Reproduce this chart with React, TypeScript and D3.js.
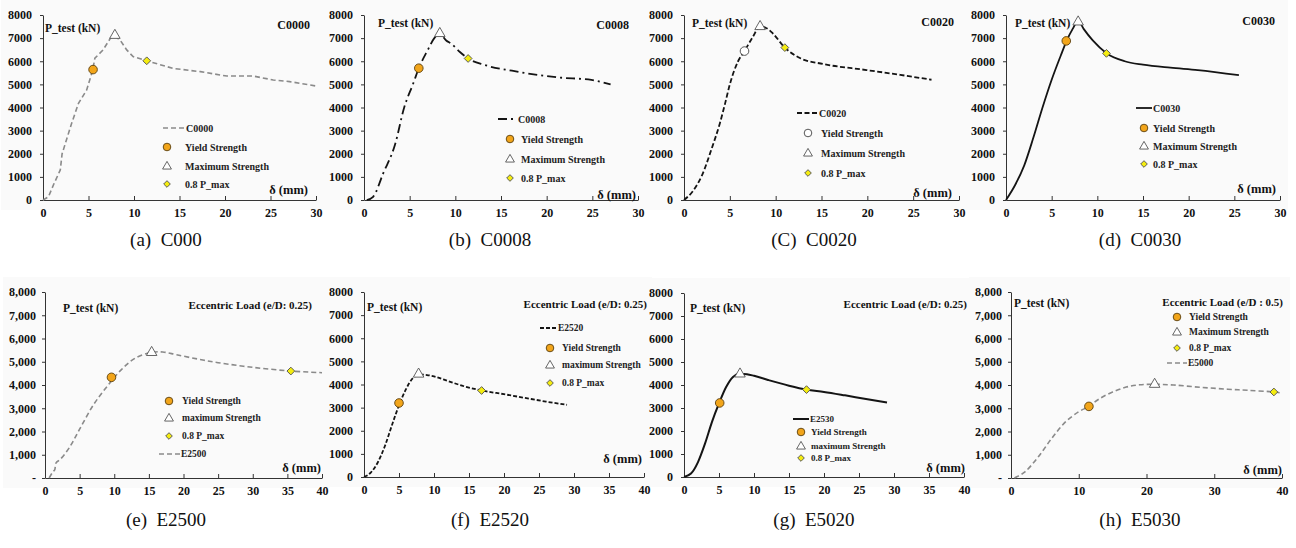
import React, { useEffect, useRef } from 'react';
import * as d3 from 'd3';

// load - displacement curves: [delta (mm), P_test (kN)]
const c0000Curve = [[0, 0], [0.6, 140], [1.2, 700], [1.9, 1300], [2.1, 2000], [3.15, 3320], [3.9, 4180], [4.8, 4760], [5.45, 5600], [5.7, 6130], [6.6, 6490], [7.4, 6990], [7.9, 7100], [8.5, 6900], [9.2, 6490], [9.9, 6200], [11.4, 6020], [14.3, 5690], [17.3, 5550], [20.2, 5360], [23.1, 5360], [25.3, 5190], [27.1, 5120], [30, 4930]];
const c0008Curve = [[0.3, 0], [1, 140], [2.1, 1150], [3.4, 2400], [4.4, 4000], [5.4, 5050], [6, 5700], [7, 6500], [7.7, 7000], [8.3, 7180], [9, 6900], [9.6, 6750], [10.5, 6400], [11.4, 6120], [13.2, 5840], [16.2, 5590], [21.3, 5300], [24.9, 5190], [27, 5000]];
const c0020Curve = [[0, 0], [1, 400], [2, 1100], [3, 2200], [3.9, 3300], [4.5, 4200], [5, 5000], [5.9, 6000], [6.6, 6440], [7.5, 7050], [8.3, 7500], [9, 7430], [9.7, 7200], [11, 6590], [12.7, 6130], [15.2, 5880], [19.9, 5620], [23.6, 5410], [27, 5200]];
const c0030Curve = [[0, 0], [1, 650], [2, 1500], [3, 2700], [4, 4000], [5, 5200], [6, 6250], [6.6, 6850], [7.3, 7400], [7.9, 7750], [8.5, 7400], [9.5, 6900], [11, 6350], [13, 6000], [15, 5850], [18, 5720], [21, 5620], [25.5, 5400]];
const e2500Curve = [[0.6, 0], [1.1, 250], [1.4, 350], [1.6, 650], [2.2, 800], [3.5, 1300], [5, 2100], [7, 3150], [9, 3950], [11, 4650], [13, 5150], [15.4, 5400], [17, 5420], [19, 5300], [22, 5120], [25, 4960], [30, 4760], [35.5, 4600], [40, 4530]];
const e2520Curve = [[0, 0], [1, 200], [2, 650], [3, 1350], [4, 2250], [5, 3100], [6, 3800], [7, 4280], [8, 4430], [9, 4410], [10, 4350], [12, 4150], [14, 3950], [17, 3730], [20, 3580], [23, 3420], [26, 3260], [29, 3120]];
const e2530Curve = [[0, 0], [1, 150], [2, 650], [3, 1450], [4, 2400], [5, 3200], [6, 3900], [7, 4350], [8, 4490], [9, 4470], [10, 4400], [12, 4220], [15, 3970], [17.5, 3800], [20, 3700], [23, 3550], [26, 3390], [29, 3240]];
const e5000Curve = [[0.5, 0], [2, 250], [4, 900], [6, 1700], [8, 2400], [10, 2850], [11.5, 3080], [13, 3400], [15, 3700], [17, 3910], [19, 4010], [21.2, 4030], [24, 4000], [28, 3900], [32, 3820], [35, 3770], [38.8, 3700], [40, 3650]];

const curves = [c0000Curve, c0008Curve, c0020Curve, c0030Curve, e2500Curve, e2520Curve, e2530Curve, e5000Curve];

const yieldPoints = [[5.5, 5640], [6, 5700], [6.6, 6440], [6.6, 6880], [9.6, 4330], [5, 3200], [5.1, 3220], [11.5, 3080]];
const maxPoints = [[7.9, 7120], [8.3, 7200], [8.3, 7500], [7.9, 7700], [15.4, 5400], [7.8, 4450], [8, 4480], [21.2, 4030]];
const p08Points = [[11.4, 6020], [11.4, 6120], [11, 6590], [11, 6340], [35.5, 4600], [16.8, 3740], [17.5, 3800], [38.8, 3700]];

const seriesNames = ['C0000', 'C0008', 'C0020', 'C0030', 'E2500', 'E2520', 'E2530', 'E5000'];
const cornerTitles = ['C0000', 'C0008', 'C0020', 'C0030', 'Eccentric Load (e/D: 0.25)', 'Eccentric Load (e/D: 0.25)', 'Eccentric Load (e/D: 0.25)', 'Eccentric Load (e/D : 0.5)'];
const maxLabels = ['Maximum Strength', 'Maximum Strength', 'Maximum Strength', 'Maximum Strength', 'maximum Strength', 'maximum Strength', 'maximum Strength', 'Maximum Strength'];
const captions = ['(a)  C000', '(b)  C0008', '(C)  C0020', '(d)  C0030', '(e)  E2500', '(f)  E2520', '(g)  E5020', '(h)  E5030'];

const xTicksShort = [0, 5, 10, 15, 20, 25, 30];
const xTicksLong = [0, 5, 10, 15, 20, 25, 30, 35, 40];
const xTicksTen = [0, 10, 20, 30, 40];
const yTicks = [0, 1000, 2000, 3000, 4000, 5000, 6000, 7000, 8000];

const GRAY = '#8a8a8a';
const INK = '#141414';

// where each panel sits on the page, and how it is drawn
const layout = [
  { x0: 43, x1: 316, yTop: 15, yBot: 200, xMax: 30, ticks: xTicksShort, comma: false, stroke: GRAY, dash: '5,3', width: 1.6, curve: 'linear', openYield: false,
    pTitle: [45, 32], corner: [310, 29], cornerFs: 12, delta: [308, 194], legend: { lx0: 163, lx1: 185, mx: 167, tx: 185, rows: { line: 128, yield: 147, max: 166, p08: 184 }, fs: 10 } },
  { x0: 364, x1: 638, yTop: 15, yBot: 200, xMax: 30, ticks: xTicksShort, comma: false, stroke: INK, dash: '9,4,2,4', width: 1.8, curve: 'monotone', openYield: false,
    pTitle: [378, 27], corner: [629, 29], cornerFs: 12, delta: [636, 199], legend: { lx0: 498, lx1: 517, mx: 510, tx: 521, rows: { line: 119, yield: 139, max: 159, p08: 178 }, fs: 10 } },
  { x0: 684, x1: 959, yTop: 15, yBot: 200, xMax: 30, ticks: xTicksShort, comma: false, stroke: INK, dash: '5,2.5', width: 1.8, curve: 'monotone', openYield: true,
    pTitle: [692, 27], corner: [954, 26], cornerFs: 12, delta: [952, 197], legend: { lx0: 797, lx1: 818, mx: 808, tx: 821, rows: { line: 113, yield: 133, max: 153, p08: 173 }, fs: 10 } },
  { x0: 1006, x1: 1280, yTop: 15, yBot: 200, xMax: 30, ticks: xTicksShort, comma: false, stroke: INK, dash: null, width: 1.8, curve: 'monotone', openYield: false,
    pTitle: [1015, 27], corner: [1275, 25], cornerFs: 12, delta: [1276, 193], legend: { lx0: 1136, lx1: 1152, mx: 1144, tx: 1153, rows: { line: 108, yield: 128, max: 146, p08: 164 }, fs: 10 } },
  { x0: 45, x1: 322, yTop: 292, yBot: 478, xMax: 40, ticks: xTicksLong, comma: true, stroke: GRAY, dash: '5,3', width: 1.6, curve: 'catmull', openYield: false,
    pTitle: [63, 312], corner: [312, 309], cornerFs: 11, delta: [321, 472], legend: { lx0: 159, lx1: 180, mx: 169, tx: 182, rows: { yield: 401, max: 418, p08: 436, line: 454 }, fs: 9.5 } },
  { x0: 364, x1: 644, yTop: 292, yBot: 477, xMax: 40, ticks: xTicksLong, comma: false, stroke: INK, dash: '4,2', width: 1.8, curve: 'monotone', openYield: false,
    pTitle: [367, 311], corner: [647, 308], cornerFs: 11, delta: [642, 463], legend: { lx0: 540, lx1: 557, mx: 550, tx: 562, rows: { line: 328, yield: 348, max: 365, p08: 383 }, fs: 9.5 } },
  { x0: 684, x1: 964, yTop: 293, yBot: 477, xMax: 40, ticks: xTicksLong, comma: false, stroke: INK, dash: null, width: 2, curve: 'monotone', openYield: false,
    pTitle: [690, 312], corner: [967, 308], cornerFs: 11, delta: [965, 472], legend: { lx0: 793, lx1: 809, mx: 801, tx: 811, rows: { line: 419, yield: 432, max: 446, p08: 458 }, fs: 9 } },
  { x0: 1011, x1: 1282, yTop: 292, yBot: 478, xMax: 40, ticks: xTicksTen, comma: true, stroke: GRAY, dash: '5,3', width: 1.6, curve: 'catmull', openYield: false,
    pTitle: [1014, 307], corner: [1283, 306], cornerFs: 11, delta: [1282, 474], legend: { lx0: 1167, lx1: 1187, mx: 1177, tx: 1189, rows: { yield: 317, max: 332, p08: 348, line: 363 }, fs: 9.5 } },
];

const curveTypes = {
  linear: d3.curveLinear,
  monotone: d3.curveMonotoneX,
  catmull: d3.curveCatmullRom.alpha(0.5),
};

const captionPos = [[166, 246], [490, 246], [814, 246], [1140, 246], [166, 526], [490, 526], [814, 526], [1140, 526]];

const FONT = "'Liberation Serif', 'Times New Roman', Times, serif";

export default function App() {
  const ref = useRef(null);

  useEffect(() => {
    const svg = d3.select(ref.current);
    svg.selectAll('*').remove();

    svg.append('rect').attr('width', 1296).attr('height', 548).attr('fill', '#fff');

    // light panel backgrounds first, so no panel covers its neighbour's text
    svg.selectAll('rect.bg')
      .data(layout)
      .join('rect')
      .attr('class', 'bg')
      .attr('x', L => L.x0 - 42).attr('y', L => L.yTop - 15)
      .attr('width', L => L.x1 - L.x0 + 50).attr('height', L => L.yBot - L.yTop + 25)
      .attr('fill', '#fafafa');

    layout.forEach((L, i) => {
      const g = svg.append('g').style('font-family', FONT);

      const x = d3.scaleLinear().domain([0, L.xMax]).range([L.x0, L.x1]);
      const y = d3.scaleLinear().domain([0, 8000]).range([L.yBot, L.yTop]);

      const fmt = L.comma ? (v => (v === 0 ? '-' : d3.format(',')(v))) : (v => String(v));

      const styleTicks = a => a.selectAll('.tick text')
        .style('font-family', FONT).style('font-weight', 'bold').style('font-size', '12px').attr('fill', '#111');

      // axes
      g.append('g')
        .attr('transform', `translate(0,${L.yBot})`)
        .call(d3.axisBottom(x).tickValues(L.ticks).tickSize(-4).tickSizeOuter(0).tickPadding(8))
        .call(a => a.select('.domain').attr('stroke', '#333'))
        .call(a => a.selectAll('.tick line').attr('stroke', '#333'))
        .call(styleTicks);

      g.append('g')
        .attr('transform', `translate(${L.x0},0)`)
        .call(d3.axisLeft(y).tickValues(yTicks).tickFormat(fmt).tickSize(3).tickSizeOuter(0).tickPadding(L.comma ? 6 : 8))
        .call(a => a.select('.domain').attr('stroke', '#333'))
        .call(a => a.selectAll('.tick line').attr('stroke', '#333'))
        .call(styleTicks);

      // curve
      const line = d3.line()
        .x(d => x(d[0]))
        .y(d => y(d[1]))
        .curve(curveTypes[L.curve]);

      g.append('path')
        .datum(curves[i])
        .attr('d', line)
        .attr('fill', 'none')
        .attr('stroke', L.stroke)
        .attr('stroke-width', L.width)
        .attr('stroke-dasharray', L.dash);

      const yieldMark = (sel, cx, cy, r) => sel.append('circle')
        .attr('cx', cx).attr('cy', cy).attr('r', r)
        .attr('fill', L.openYield ? '#fff' : '#f2a51a')
        .attr('stroke', L.openYield ? '#444' : '#5a4010').attr('stroke-width', 0.9);
      const maxMark = (sel, cx, cy, s) => sel.append('path')
        .attr('transform', `translate(${cx},${cy})`)
        .attr('d', d3.symbol(d3.symbolTriangle, s)())
        .attr('fill', '#fff').attr('stroke', '#555').attr('stroke-width', 0.9);
      const p08Mark = (sel, cx, cy, s) => sel.append('path')
        .attr('transform', `translate(${cx},${cy}) rotate(45)`)
        .attr('d', d3.symbol(d3.symbolSquare, s)())
        .attr('fill', '#f4ec10').attr('stroke', '#555').attr('stroke-width', 0.9);

      yieldMark(g, x(yieldPoints[i][0]), y(yieldPoints[i][1]), 4.3);
      maxMark(g, x(maxPoints[i][0]), y(maxPoints[i][1]), 48);
      p08Mark(g, x(p08Points[i][0]), y(p08Points[i][1]), 30);

      const bold = (tx, ty, s, anchor, size) => g.append('text')
        .attr('x', tx).attr('y', ty).attr('text-anchor', anchor)
        .style('font-family', FONT).style('font-weight', 'bold').style('font-size', `${size}px`)
        .attr('fill', '#111').text(s);

      // titles
      bold(L.pTitle[0], L.pTitle[1], 'P_test (kN)', 'start', 11.5);
      bold(L.corner[0], L.corner[1], cornerTitles[i], 'end', L.cornerFs);
      bold(L.delta[0], L.delta[1], 'δ (mm)', 'end', 12.5);

      // legend
      const lg = L.legend;
      const R = lg.rows;
      g.append('line')
        .attr('x1', lg.lx0).attr('x2', lg.lx1).attr('y1', R.line).attr('y2', R.line)
        .attr('stroke', L.stroke).attr('stroke-width', L.width)
        .attr('stroke-dasharray', L.dash);
      yieldMark(g, lg.mx, R.yield, 3.8);
      maxMark(g, lg.mx, R.max + 0.5, 34);
      p08Mark(g, lg.mx, R.p08, 22);

      const label = (tx, ty, s) => bold(tx, ty, s, 'start', lg.fs).attr('dy', '0.35em').attr('fill', '#222');
      label(lg.lx1 + 1, R.line, seriesNames[i]);
      label(lg.tx, R.yield, 'Yield Strength');
      label(lg.tx, R.max, maxLabels[i]);
      label(lg.tx, R.p08, '0.8 P_max');

      // caption under the panel
      svg.append('text')
        .attr('x', captionPos[i][0]).attr('y', captionPos[i][1])
        .attr('text-anchor', 'middle')
        .style('font-family', FONT).style('font-size', '19px').attr('fill', '#111')
        .style('white-space', 'pre')
        .text(captions[i]);
    });
  }, []);

  return (
    <svg
      ref={ref}
      width={1296}
      height={548}
      style={{ position: 'absolute', left: 0, top: 0 }}
    />
  );
}
